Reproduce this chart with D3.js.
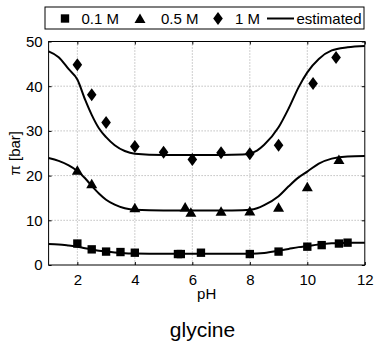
<!DOCTYPE html>
<html><head><meta charset="utf-8">
<script src="https://cdn.jsdelivr.net/npm/d3@7"></script>
<style>
body{margin:0;background:#fff;}
text{font-family:"Liberation Sans",Arial,sans-serif;fill:#000;}
</style></head>
<body><svg id="c" width="374" height="342"></svg>
<script>
// measured data (pH, osmotic pressure pi in bar)
const pH01 = [2,2.5,3,3.5,4,5.5,5.6,6.3,8,9,10,10.5,11.1,11.4];
const pi01 = [4.8,3.5,3.0,2.9,2.75,2.45,2.45,2.75,2.45,3.0,4.1,4.45,4.8,5.0];
const pH05 = [2,2.5,4,5.75,5.95,7,8,9,10,11.1];
const pi05 = [21.2,18.2,12.8,13.0,11.8,12.0,12.1,12.9,17.5,23.6];
const pH1 = [2,2.5,3,4,5,6,7,8,9,10.2,11];
const pi1 = [44.8,38.1,31.9,26.5,25.2,23.6,25.1,24.9,26.8,40.6,46.4];
// estimated curves
const estPH = [1,1.35,1.7,2,2.27,2.5,2.75,3,3.3,3.65,4,5,6,7,7.75,8,8.25,8.5,9,9.35,9.7,10,10.4,10.85,11.4,12];
const est1  = [47.8,46.5,43.8,41.5,37.0,33.6,30.6,28.6,26.8,25.5,24.9,24.6,24.6,24.6,24.7,24.95,25.6,26.9,30.8,35.0,39.8,43.1,46.1,48.0,48.7,49.0];
const est05 = [23.95,23.3,22.3,21.05,19.4,17.7,16.0,14.6,13.5,12.7,12.35,12.2,12.2,12.2,12.25,12.35,12.7,13.4,15.4,17.6,19.6,20.9,22.7,23.8,24.3,24.4];
const est01 = [4.7,4.6,4.35,4.1,3.75,3.5,3.2,3.0,2.8,2.65,2.58,2.5,2.5,2.5,2.5,2.52,2.57,2.7,3.2,3.6,4.0,4.25,4.6,4.85,4.95,5.0];
const xTicks = [2,4,6,8,10,12];
const yTicks = [0,10,20,30,40,50];
const legendLabels = ["0.1 M","0.5 M","1 M","estimated"];
const xLabel = "pH", yLabel = "\u03c0 [bar]", title = "glycine";

const svg = d3.select("#c");
const L=48.6, R=364.8, T=41.5, B=265;
const x = d3.scaleLinear().domain([1,12]).range([L,R]);
const y = d3.scaleLinear().domain([0,50]).range([B,T]);

// grid
const g = svg.append("g");
g.selectAll("line.gx").data(xTicks.filter(d=>d<12)).enter().append("line")
 .attr("x1",d=>x(d)).attr("x2",d=>x(d)).attr("y1",T).attr("y2",B)
 .attr("stroke","#888").attr("stroke-width",0.8).attr("stroke-dasharray","1,2");
g.selectAll("line.gy").data(yTicks.filter(d=>d>0&&d<50)).enter().append("line")
 .attr("y1",d=>y(d)).attr("y2",d=>y(d)).attr("x1",L).attr("x2",R)
 .attr("stroke","#888").attr("stroke-width",0.8).attr("stroke-dasharray","1,2");

// axes
const ax = d3.axisBottom(x).tickValues(xTicks).tickSizeInner(-3).tickSizeOuter(0).tickPadding(9);
const ay = d3.axisLeft(y).tickValues(yTicks).tickSizeInner(-3).tickSizeOuter(0).tickPadding(6);
const gx = svg.append("g").attr("transform",`translate(0,${B})`).call(ax);
const gy = svg.append("g").attr("transform",`translate(${L},0)`).call(ay);
const gx2 = svg.append("g").attr("transform",`translate(0,${T})`).call(d3.axisTop(x).tickValues(xTicks).tickSizeInner(-3).tickSizeOuter(0).tickFormat(""));
const gy2 = svg.append("g").attr("transform",`translate(${R},0)`).call(d3.axisRight(y).tickValues(yTicks).tickSizeInner(-3).tickSizeOuter(0).tickFormat(""));
[gx,gy,gx2,gy2].forEach(a=>{a.select(".domain").remove();a.selectAll("line").attr("stroke","#000");
 a.selectAll("text").attr("font-size",15).attr("font-family","Liberation Sans, Arial, sans-serif");});
gx.selectAll("text").attr("dy","0.71em");
svg.append("rect").attr("x",L).attr("y",T).attr("width",R-L).attr("height",B-T)
 .attr("fill","none").attr("stroke","#000").attr("stroke-width",1);

// curves
const line = d3.line().x(d=>x(d[0])).y(d=>y(d[1])).curve(d3.curveMonotoneX);
[est1,est05,est01].forEach(arr=>{
  svg.append("path").datum(estPH.map((p,i)=>[p,arr[i]])).attr("d",line)
   .attr("fill","none").attr("stroke","#000").attr("stroke-width",2);
});

// markers
const sq = d3.symbol().type(d3.symbolSquare).size(70);
const tri = "M0,-5L5.5,4.5L-5.5,4.5Z";
const dia = "M0,-6.5L4.8,0L0,6.5L-4.8,0Z";
svg.selectAll("path.s").data(pH01.map((p,i)=>[p,pi01[i]])).enter().append("path")
 .attr("d",sq).attr("transform",d=>`translate(${x(d[0])},${y(d[1])})`).attr("fill","#000");
svg.selectAll("path.t").data(pH05.map((p,i)=>[p,pi05[i]])).enter().append("path")
 .attr("d",tri).attr("transform",d=>`translate(${x(d[0])},${y(d[1])})`).attr("fill","#000");
svg.selectAll("path.d").data(pH1.map((p,i)=>[p,pi1[i]])).enter().append("path")
 .attr("d",dia).attr("transform",d=>`translate(${x(d[0])},${y(d[1])})`).attr("fill","#000");

// labels
svg.append("text").attr("x",(L+R)/2).attr("y",299).attr("text-anchor","middle").attr("font-size",15).text(xLabel);
svg.append("text").attr("transform",`translate(20,${(T+B)/2}) rotate(-90)`).attr("text-anchor","middle").attr("font-size",15).text(yLabel);
svg.append("text").attr("x",202.5).attr("y",337).attr("text-anchor","middle").attr("font-size",21).text(title);

// legend
const lg = svg.append("g");
lg.append("rect").attr("x",45).attr("y",7).attr("width",319).attr("height",22).attr("fill","#fff").attr("stroke","#000");
const ly = 18.5;
lg.append("path").attr("d",sq).attr("transform",`translate(65,${ly})`);
lg.append("path").attr("d",tri).attr("transform",`translate(140,${ly})`);
lg.append("path").attr("d",dia).attr("transform",`translate(218,${ly})`);
lg.append("line").attr("x1",267).attr("x2",294).attr("y1",ly).attr("y2",ly).attr("stroke","#000").attr("stroke-width",2);
const lx = [81.5,161,235,296.5];
legendLabels.forEach((t,i)=>lg.append("text").attr("x",lx[i]).attr("y",24).attr("font-size",15).text(t));
</script></body></html>
